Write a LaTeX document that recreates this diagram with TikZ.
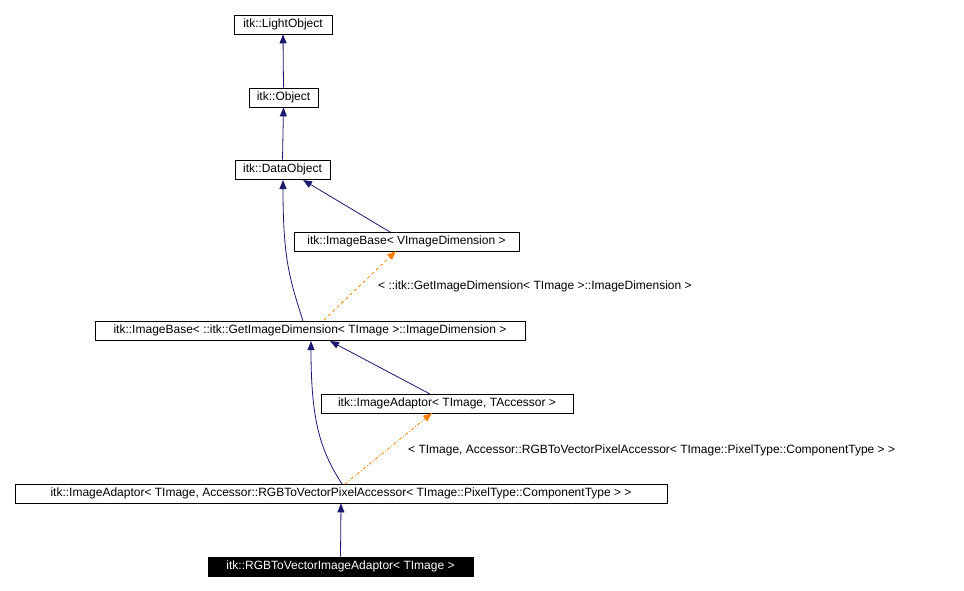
\documentclass[tikz,border=0pt]{standalone}
\usepackage{fontspec}
\setmainfont{Liberation Sans}
\usetikzlibrary{arrows.meta}
\begin{document}
\begin{tikzpicture}[x=1pt,y=-1pt,
  box/.style={draw,line width=0.8pt,inner sep=0pt,font=\fontsize{12}{14}\selectfont,anchor=center},
  inh/.style={draw={rgb,255:red,25;green,25;blue,112},line width=0.8pt,-{Triangle[length=9pt,width=7pt]}},
  tmpl/.style={draw=orange,line width=0.8pt,dashed,-{Triangle[length=9pt,width=7pt]}},
  lbl/.style={font=\fontsize{12}{14}\selectfont,anchor=west,inner sep=0pt}]
\useasboundingbox (0,0) rectangle (964,590);
\node[box,minimum width=98pt,minimum height=19pt] (lo) at (283,24.5) {itk::LightObject};
\node[box,minimum width=69pt,minimum height=19pt] (ob) at (283.5,97.5) {itk::Object};
\node[box,minimum width=95pt,minimum height=19pt] (do) at (282.5,169.5) {itk::DataObject};
\node[box,minimum width=225pt,minimum height=19pt] (ibv) at (406.5,241.5) {itk::ImageBase< VImageDimension >};
\node[box,minimum width=430pt,minimum height=19pt] (ibg) at (310,330.5) {itk::ImageBase< ::itk::GetImageDimension< TImage >::ImageDimension >};
\node[box,minimum width=252pt,minimum height=19pt] (ia) at (447,403.5) {itk::ImageAdaptor< TImage, TAccessor >};
\node[box,minimum width=652pt,minimum height=19pt] (ial) at (341,493.5) {itk::ImageAdaptor< TImage, Accessor::RGBToVectorPixelAccessor< TImage::PixelType::ComponentType > >};
\node[box,fill=black,text=white,minimum width=265pt,minimum height=19pt] (rgb) at (340.5,566.5) {itk::RGBToVectorImageAdaptor< TImage >};
\draw[inh] (ob.north) -- (lo.south);
\draw[inh] (do.north) -- (ob.south);
\draw[inh] (390,232) -- (303,180);
\draw[inh] (303,321) .. controls (290,280) and (283,260) .. (283,180);
\draw[tmpl] (324,320) -- (396,251);
\node[lbl] (l1) at (378,286) {< ::itk::GetImageDimension< TImage >::ImageDimension >};
\draw[inh] (430,394) -- (330,341);
\draw[inh] (342,484) .. controls (320,450) and (311,420) .. (311,341);
\draw[draw=orange,line width=0.8pt,dash dot,-{Triangle[length=9pt,width=7pt]}] (345,484) -- (432,413);
\node[lbl] (l2) at (408,450) {< TImage, Accessor::RGBToVectorPixelAccessor< TImage::PixelType::ComponentType > >};
\draw[inh] (rgb.north) -- (ial.south);
\end{tikzpicture}
\end{document}
